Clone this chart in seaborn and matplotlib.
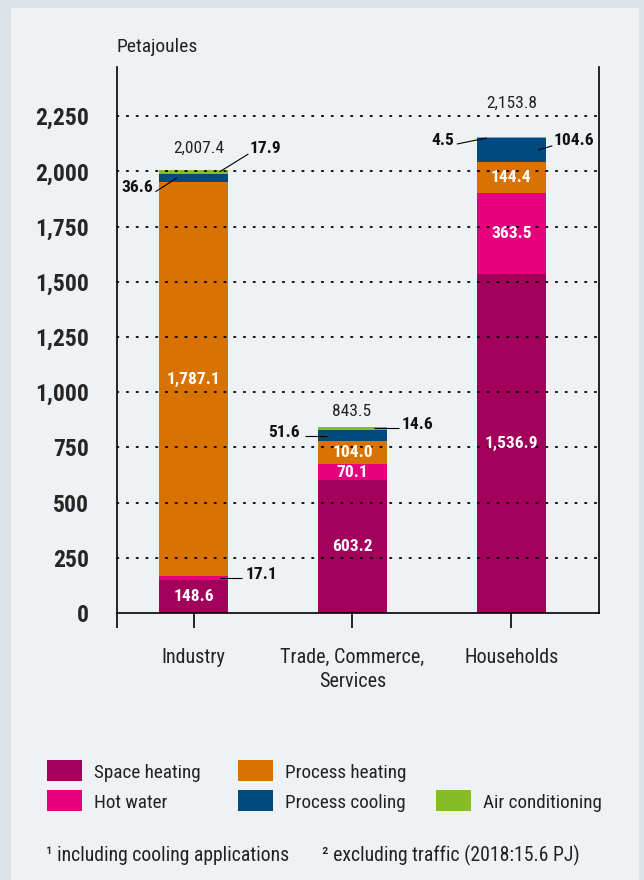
import matplotlib
matplotlib.use("Agg")
import matplotlib.pyplot as plt
from matplotlib import font_manager
from matplotlib.patches import Rectangle
import numpy as np
import pandas as pd
import seaborn as sns

# data (Petajoules)
sectors = ["Industry", "Trade, Commerce,\nServices", "Households"]
components = ["Space heating", "Hot water", "Process heating", "Process cooling", "Air conditioning"]
space_heating = [148.6, 603.2, 1536.9]
hot_water = [17.1, 70.1, 363.5]
process_heating = [1787.1, 104.0, 144.4]
process_cooling = [36.6, 51.6, 104.6]
air_conditioning = [17.9, 14.6, 4.5]
totals = [2007.4, 843.5, 2153.8]
y_ticks = [0, 250, 500, 750, 1000, 1250, 1500, 1750, 2000, 2250]

colors = {
    "Space heating": "#a2005b",
    "Hot water": "#e6007e",
    "Process heating": "#d87200",
    "Process cooling": "#004b7c",
    "Air conditioning": "#86bc25",
}

values = {
    "Space heating": space_heating,
    "Hot water": hot_water,
    "Process heating": process_heating,
    "Process cooling": process_cooling,
    "Air conditioning": air_conditioning,
}

rows = []
for comp in components:
    for sec, v in zip(sectors, values[comp]):
        rows.append({"sector": sec, "component": comp, "value": v})
df = pd.DataFrame(rows)

# pick the narrowest installed sans family
installed = {f.name for f in font_manager.fontManager.ttflist}
family = [f for f in ["Roboto Condensed", "Liberation Sans Narrow", "Roboto", "Open Sans"]
          if f in installed][:1] + ["DejaVu Sans"]

sns.set_theme(style="white")
plt.rcParams["font.family"] = family

W, H = 644, 880
fig = plt.figure(figsize=(W / 100, H / 100), dpi=100, facecolor="#dde4e8")
fig.add_artist(Rectangle((11 / W, 0), (639 - 11) / W, 1 - 8 / H,
                         transform=fig.transFigure, facecolor="#eef2f5",
                         edgecolor="none", zorder=-5))

ax = fig.add_axes([117 / W, 1 - 613 / H, (599 - 117) / W, (613 - 67) / H])
ax.set_facecolor("none")

# stacked bars, one seaborn call per layer
bottoms = np.zeros(len(sectors))
seg_bottoms = {}
for comp in components:
    sub = df[df["component"] == comp]
    seg_bottoms[comp] = bottoms.copy()
    sns.barplot(data=sub, x="sector", y="value", order=sectors, color=colors[comp],
                saturation=1, errorbar=None, width=0.434, bottom=bottoms.copy(),
                linewidth=0, ax=ax)
    bottoms = bottoms + sub.set_index("sector").loc[sectors, "value"].to_numpy()

ax.set_xlim(-0.482, 2.552)
ax.set_ylim(0, 2473)
ax.set_xlabel("")
ax.set_ylabel("")

# axes styling
for side in ["left", "right", "bottom"]:
    ax.spines[side].set_visible(True)
    ax.spines[side].set_color("black")
    ax.spines[side].set_linewidth(1.2)
ax.spines["top"].set_visible(False)

ax.set_yticks(y_ticks)
ax.set_yticklabels([f"{t:,}" for t in y_ticks], fontsize=17, fontweight="bold")
ax.tick_params(axis="y", length=0, pad=20)
ax.set_xticks(range(len(sectors)))
ax.set_xticklabels(sectors, fontsize=14.5, color="#222222", linespacing=1.35)
ax.set_xticks([-0.482], minor=True)
ax.tick_params(axis="x", which="both", direction="out", length=11, width=1.2,
               color="black", pad=14, bottom=True)

for t in y_ticks[1:]:
    ax.axhline(t, color="black", lw=1.3, linestyle=(0, (0.8, 4.6)),
               dash_capstyle="round", zorder=2.5)

# white labels inside the bars
inside = {
    "Space heating": [0, 1, 2],
    "Hot water": [1, 2],
    "Process heating": [0, 1, 2],
}
for comp, idxs in inside.items():
    for i in idxs:
        v = values[comp][i]
        ax.text(i, seg_bottoms[comp][i] + v / 2, f"{v:,.1f}", color="white",
                fontsize=12.5, fontweight="bold", ha="center", va="center", zorder=4)

# totals
total_y = [2103, 912, 2308]
total_x = [0.03, 0.996, 2.0]
for i, tot in enumerate(totals):
    ax.text(total_x[i], total_y[i], f"{tot:,.1f}", fontsize=12.5, ha="center",
            va="center", color="#222222", zorder=4)


def mid(comp, i):
    return seg_bottoms[comp][i] + values[comp][i] / 2


def callout(comp, i, x0, x1, y1, tx, ty, ha):
    y0 = mid(comp, i)
    ax.plot([x0, x1], [y0, y1], color="black", lw=0.8, zorder=4,
            solid_capstyle="butt")
    ax.text(tx, ty, f"{values[comp][i]:,.1f}", fontsize=12.5, fontweight="bold",
            ha=ha, va="center", color="#111111", zorder=4)


# Industry
callout("Air conditioning", 0, 0.164, 0.345, 2079, 0.350, 2103, "left")
callout("Process cooling", 0, -0.104, -0.24, 1908, -0.255, 1928, "right")
callout("Hot water", 0, 0.164, 0.305, mid("Hot water", 0), 0.325, 175, "left")
# Trade, Commerce, Services
callout("Air conditioning", 1, 1.137, 1.296, mid("Air conditioning", 1), 1.311, 856, "left")
callout("Process cooling", 1, 0.843, 0.703, mid("Process cooling", 1), 0.671, 818, "right")
# Households
callout("Air conditioning", 2, 1.845, 1.657, 2124, 1.638, 2142, "right")
callout("Process cooling", 2, 2.168, 2.258, 2116, 2.268, 2142, "left")

# unit label
fig.text(117 / W, 1 - 47 / H, "Petajoules", fontsize=14, ha="left", va="center",
         color="#222222")

# legend
legend_items = [
    ("Space heating", 47, 760),
    ("Process heating", 238, 760),
    ("Hot water", 47, 790),
    ("Process cooling", 238, 790),
    ("Air conditioning", 436, 790),
]
for name, px, py in legend_items:
    fig.add_artist(Rectangle((px / W, 1 - (py + 21) / H), 35 / W, 21 / H,
                             transform=fig.transFigure, facecolor=colors[name],
                             edgecolor="none"))
    fig.text((px + 47) / W, 1 - (py + 13) / H, name, fontsize=13.8, ha="left",
             va="center", color="#222222")

# footnotes
fig.text(46 / W, 1 - 855 / H, "¹ including cooling applications", fontsize=14.2,
         ha="left", va="center", color="#222222")
fig.text(322 / W, 1 - 855 / H, "² excluding traffic (2018:15.6 PJ)", fontsize=14.2,
         ha="left", va="center", color="#222222")

fig.savefig("out.png", dpi=100, facecolor=fig.get_facecolor())
